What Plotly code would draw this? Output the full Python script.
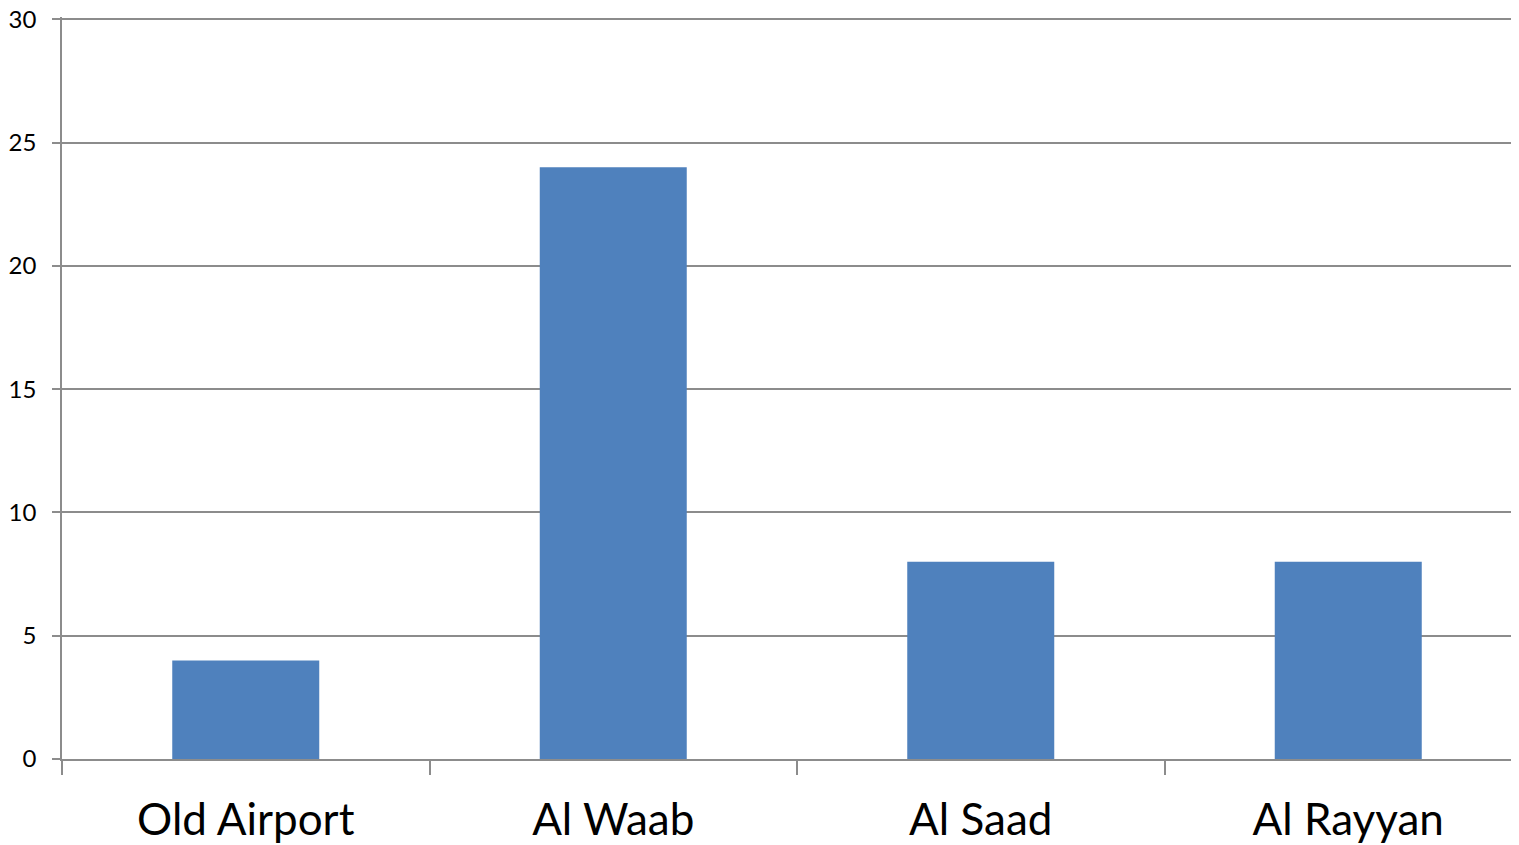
import plotly.graph_objects as go

categories = ["Old Airport", "Al Waab", "Al Saad", "Al Rayyan"]
values = [4, 24, 8, 8]
y_ticks = [0, 5, 10, 15, 20, 25, 30]

fig = go.Figure(go.Bar(x=categories, y=values, marker=dict(color="#4F81BD", line=dict(width=0)), width=0.4))

fig.update_layout(
    width=1524, height=845,
    margin=dict(l=54, r=0, t=9, b=94),
    paper_bgcolor="white", plot_bgcolor="white",
    font=dict(family="Lato, Open Sans, sans-serif", color="black"),
    showlegend=False,
)
fig.update_xaxes(
    showline=True, linecolor="#8c8c8c", linewidth=1.5,
    ticks="outside", tickson="boundaries", ticklen=14, tickcolor="#8c8c8c", tickwidth=1.5,
    tickfont=dict(size=44), showgrid=False, ticklabelstandoff=21, automargin=False,
    ticklabeloverflow="allow",
)
fig.update_yaxes(
    range=[0, 30.1], tickvals=y_ticks, showline=True, linecolor="#8c8c8c", linewidth=1.5,
    ticks="outside", ticklen=8, tickcolor="#8c8c8c", tickwidth=1.5,
    showgrid=True, gridcolor="#8c8c8c", gridwidth=1.5, zeroline=False,
    tickfont=dict(size=24), ticklabelstandoff=11, automargin=False,
    ticklabeloverflow="allow",
)

fig.write_html("out.html")
